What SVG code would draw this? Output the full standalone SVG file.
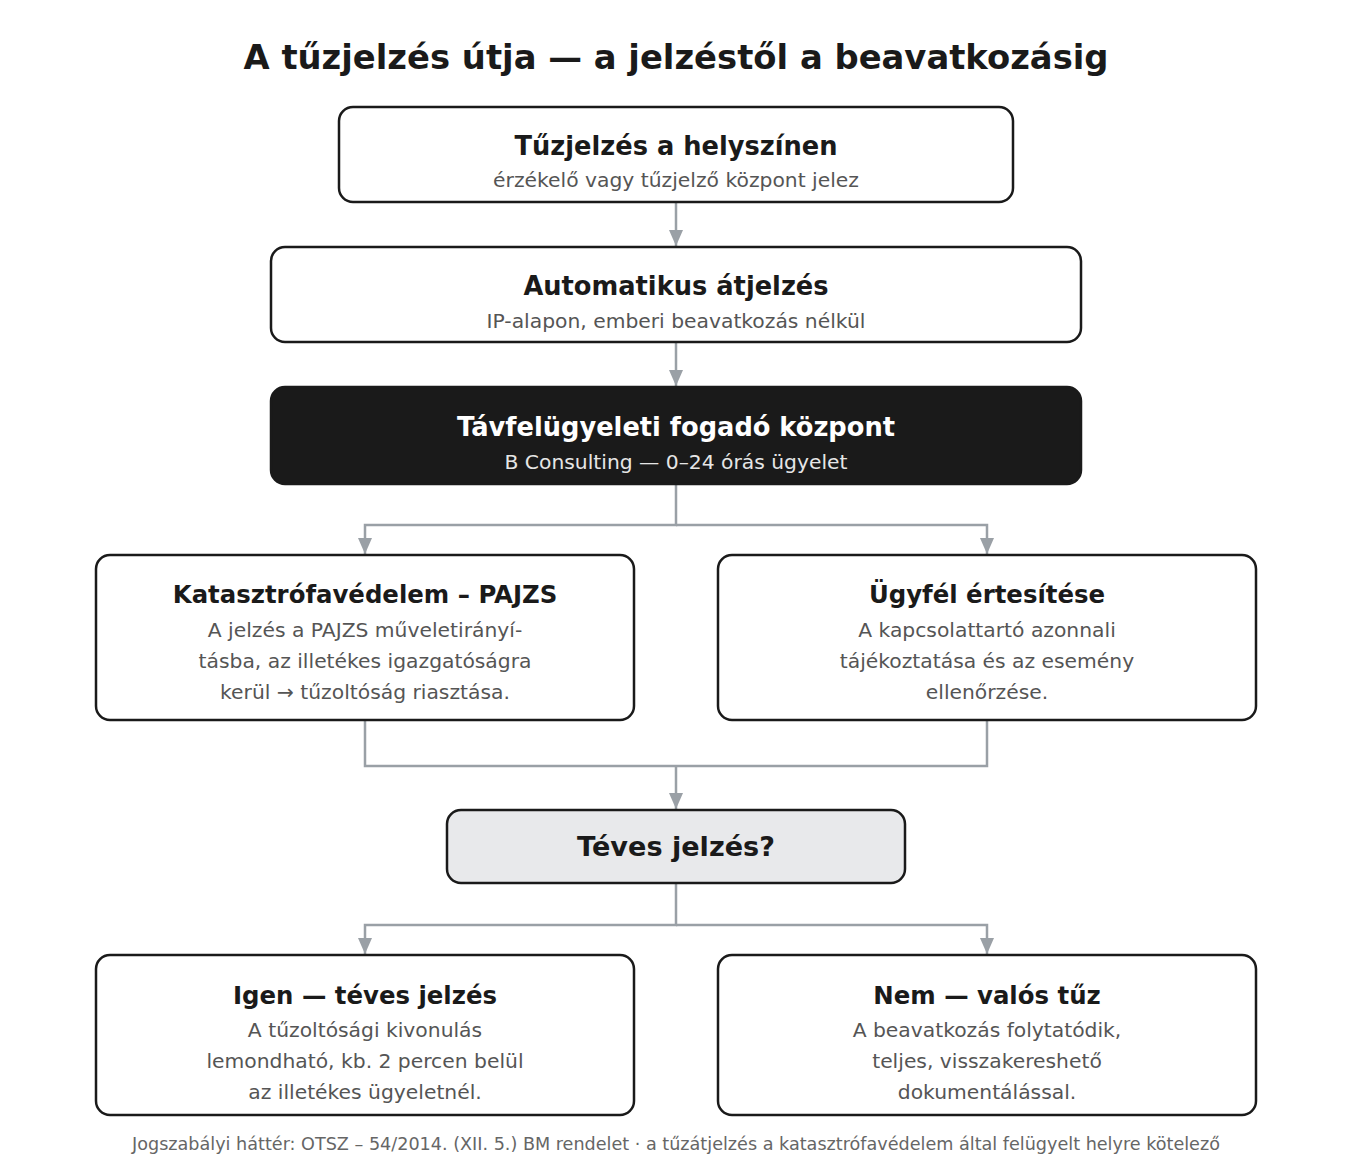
<svg xmlns="http://www.w3.org/2000/svg" width="1352" height="1163" viewBox="0 0 1352 1163">
<style>
text{font-family:"DejaVu Sans","Noto Sans",sans-serif;text-anchor:middle}
.title{font-size:33.8px;font-weight:bold;fill:#1a1a1a}
.box{fill:#ffffff;stroke:#1a1a1a;stroke-width:2.5}
.dark{fill:#1a1a1a;stroke:#1a1a1a;stroke-width:2.5}
.dec{fill:#e8e9eb;stroke:#1a1a1a;stroke-width:2.5}
.h{font-size:25.7px;font-weight:bold;fill:#1a1a1a}
.h2{font-size:24.4px;font-weight:bold;fill:#1a1a1a}
.hw{font-size:25.7px;font-weight:bold;fill:#ffffff}
.s{font-size:20.3px;fill:#555555}
.sw{font-size:20.3px;fill:#e6e6e6}
.c{fill:none;stroke:#9aa0a6;stroke-width:2.5}
.foot{font-size:17.6px;fill:#666666}
</style>
<defs>
<marker id="arr" viewBox="0 0 16 14" refX="16" refY="7" markerWidth="16" markerHeight="14" markerUnits="userSpaceOnUse" orient="auto">
<path d="M0,0 L16,7 L0,14 Z" fill="#9aa0a6"/>
</marker>
</defs>
<rect width="1352" height="1163" fill="#ffffff"/>
<text class="title" x="676" y="69">A tűzjelzés útja — a jelzéstől a beavatkozásig</text>
<g id="connectors">
<path class="c" d="M676,202 V246" marker-end="url(#arr)"/>
<path class="c" d="M676,342 V386" marker-end="url(#arr)"/>
<path class="c" d="M676,484 V525 H365 V554" marker-end="url(#arr)"/>
<path class="c" d="M676,525 H987 V554" marker-end="url(#arr)"/>
<path class="c" d="M365,720 V766 H987 V720"/>
<path class="c" d="M676,766 V809" marker-end="url(#arr)"/>
<path class="c" d="M676,883 V925 H365 V954" marker-end="url(#arr)"/>
<path class="c" d="M676,925 H987 V954" marker-end="url(#arr)"/>
</g>
<g id="n1">
<rect class="box" x="339" y="107" width="674" height="95" rx="14"/>
<text class="h" x="676" y="155">Tűzjelzés a helyszínen</text>
<text class="s" x="676" y="187">érzékelő vagy tűzjelző központ jelez</text>
</g>
<g id="n2">
<rect class="box" x="271" y="247" width="810" height="95" rx="14"/>
<text class="h" x="676" y="295">Automatikus átjelzés</text>
<text class="s" x="676" y="328">IP-alapon, emberi beavatkozás nélkül</text>
</g>
<g id="n3">
<rect class="dark" x="271" y="387" width="810" height="97" rx="14"/>
<text class="hw" x="676" y="436">Távfelügyeleti fogadó központ</text>
<text class="sw" x="676" y="469">B Consulting — 0–24 órás ügyelet</text>
</g>
<g id="n4">
<rect class="box" x="96" y="555" width="538" height="165" rx="14"/>
<text class="h2" x="365" y="603">Katasztrófavédelem – PAJZS</text>
<text class="s" x="365" y="637">A jelzés a PAJZS műveletirányí-</text>
<text class="s" x="365" y="668">tásba, az illetékes igazgatóságra</text>
<text class="s" x="365" y="699">kerül → tűzoltóság riasztása.</text>
</g>
<g id="n5">
<rect class="box" x="718" y="555" width="538" height="165" rx="14"/>
<text class="h2" x="987" y="603">Ügyfél értesítése</text>
<text class="s" x="987" y="637">A kapcsolattartó azonnali</text>
<text class="s" x="987" y="668">tájékoztatása és az esemény</text>
<text class="s" x="987" y="699">ellenőrzése.</text>
</g>
<g id="n6">
<rect class="dec" x="447" y="810" width="458" height="73" rx="14"/>
<text class="h" x="676" y="856" style="font-size:27.1px">Téves jelzés?</text>
</g>
<g id="n7">
<rect class="box" x="96" y="955" width="538" height="160" rx="14"/>
<text class="h2" x="365" y="1004">Igen — téves jelzés</text>
<text class="s" x="365" y="1037">A tűzoltósági kivonulás</text>
<text class="s" x="365" y="1068">lemondható, kb. 2 percen belül</text>
<text class="s" x="365" y="1099">az illetékes ügyeletnél.</text>
</g>
<g id="n8">
<rect class="box" x="718" y="955" width="538" height="160" rx="14"/>
<text class="h2" x="987" y="1004">Nem — valós tűz</text>
<text class="s" x="987" y="1037">A beavatkozás folytatódik,</text>
<text class="s" x="987" y="1068">teljes, visszakereshető</text>
<text class="s" x="987" y="1099">dokumentálással.</text>
</g>
<text class="foot" x="676" y="1150">Jogszabályi háttér: OTSZ – 54/2014. (XII. 5.) BM rendelet · a tűzátjelzés a katasztrófavédelem által felügyelt helyre kötelező</text>
</svg>
